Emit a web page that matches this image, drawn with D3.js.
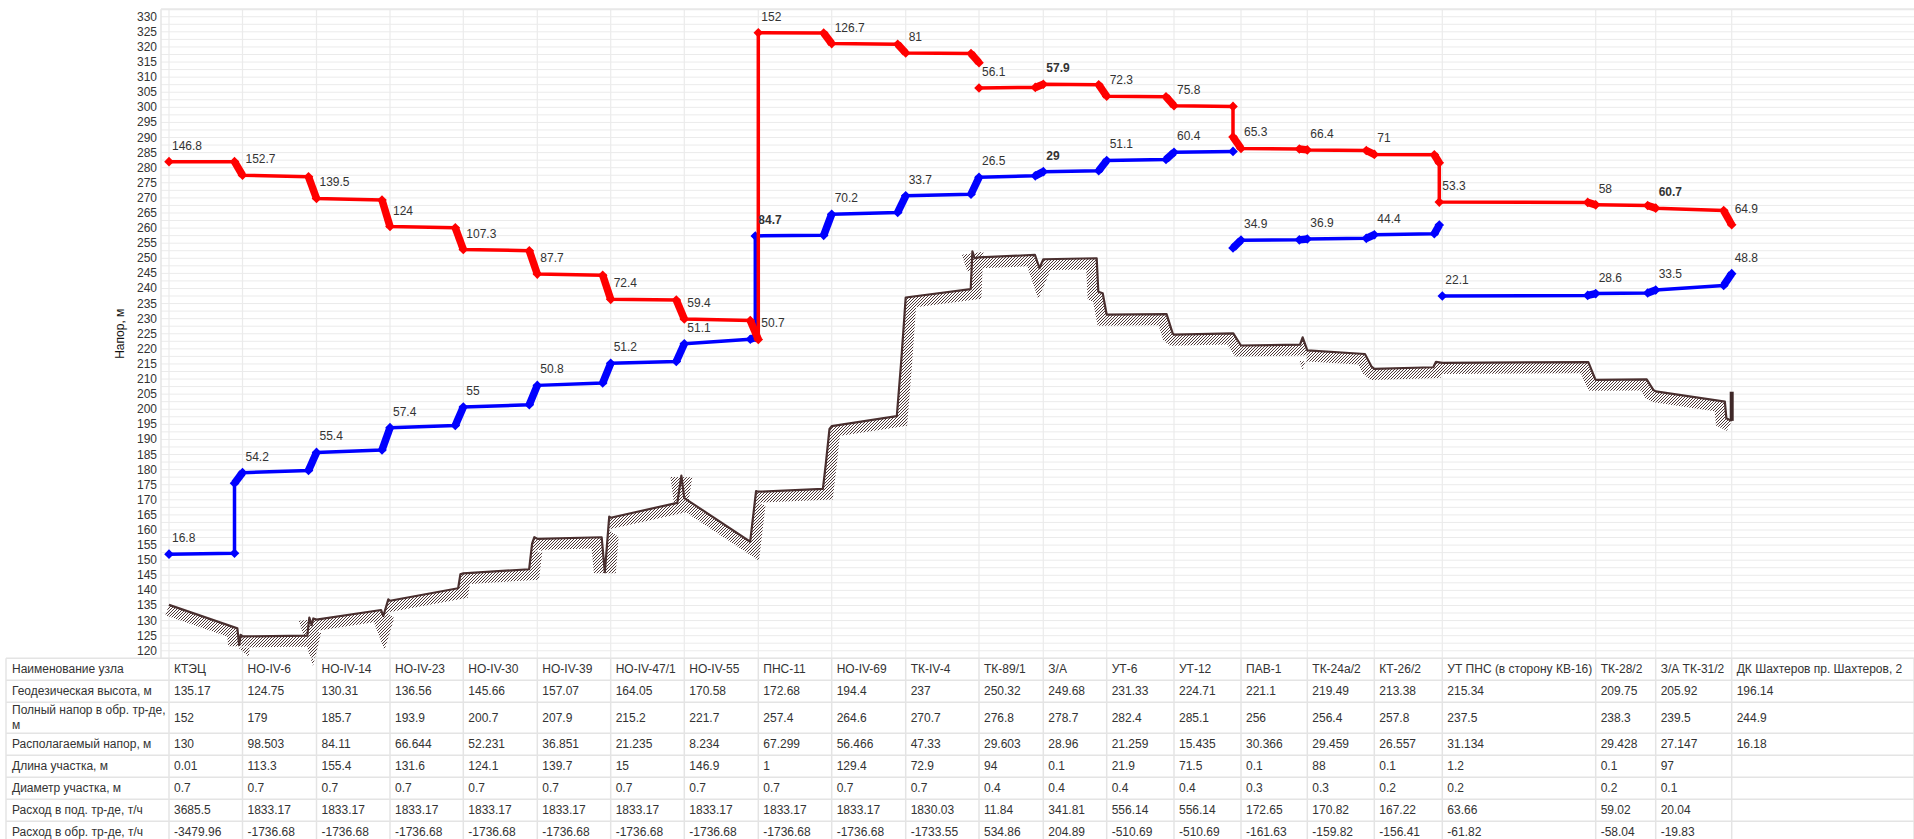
<!DOCTYPE html>
<html>
<head>
<meta charset="utf-8">
<title>Пьезометрический график</title>
<script src="https://d3js.org/d3.v7.min.js"></script>
<style>
    body { margin: 0; background: #fff; }
    svg { font-family: "Liberation Sans", Arial, sans-serif; }
    svg text { font-size: 12px; fill: #333; }
</style>
</head>
<body>
<svg id="chart" width="1914" height="839"></svg>
<script>
// ---- data (table) ----
const nodeNames = ["КТЭЦ", "НО-IV-6", "НО-IV-14", "НО-IV-23", "НО-IV-30", "НО-IV-39", "НО-IV-47/1", "НО-IV-55",
    "ПНС-11", "НО-IV-69", "ТК-IV-4", "ТК-89/1", "З/А", "УТ-6", "УТ-12", "ПАВ-1", "ТК-24а/2", "КТ-26/2",
    "УТ ПНС (в сторону КВ-16)", "ТК-28/2", "З/А ТК-31/2", "ДК Шахтеров пр. Шахтеров, 2"];
const geodeticHeight = [135.17, 124.75, 130.31, 136.56, 145.66, 157.07, 164.05, 170.58, 172.68, 194.4, 237,
    250.32, 249.68, 231.33, 224.71, 221.1, 219.49, 213.38, 215.34, 209.75, 205.92, 196.14];
const returnHead = [152, 179, 185.7, 193.9, 200.7, 207.9, 215.2, 221.7, 257.4, 264.6, 270.7, 276.8, 278.7,
    282.4, 285.1, 256, 256.4, 257.8, 237.5, 238.3, 239.5, 244.9];
const availableHead = [130, 98.503, 84.11, 66.644, 52.231, 36.851, 21.235, 8.234, 67.299, 56.466, 47.33,
    29.603, 28.96, 21.259, 15.435, 30.366, 29.459, 26.557, 31.134, 29.428, 27.147, 16.18];
const sectionLength = [0.01, 113.3, 155.4, 131.6, 124.1, 139.7, 15, 146.9, 1, 129.4, 72.9, 94, 0.1, 21.9,
    71.5, 0.1, 88, 0.1, 1.2, 0.1, 97, null];
const sectionDiameter = [0.7, 0.7, 0.7, 0.7, 0.7, 0.7, 0.7, 0.7, 0.7, 0.7, 0.7, 0.4, 0.4, 0.4, 0.4, 0.3,
    0.3, 0.2, 0.2, 0.2, 0.1, null];
const supplyFlow = [3685.5, 1833.17, 1833.17, 1833.17, 1833.17, 1833.17, 1833.17, 1833.17, 1833.17, 1833.17,
    1830.03, 11.84, 341.81, 556.14, 556.14, 172.65, 170.82, 167.22, 63.66, 59.02, 20.04, null];
const returnFlow = [-3479.96, -1736.68, -1736.68, -1736.68, -1736.68, -1736.68, -1736.68, -1736.68, -1736.68,
    -1736.68, -1733.55, 534.86, 204.89, -510.69, -510.69, -161.63, -159.82, -156.41, -61.82, -58.04, -19.83, null];

const rowLabels = ["Наименование узла", "Геодезическая высота, м", ["Полный напор в обр. тр-де,", "м"],
    "Располагаемый напор, м", "Длина участка, м", "Диаметр участка, м", "Расход в под. тр-де, т/ч",
    "Расход в обр. тр-де, т/ч"];
const rowValues = [nodeNames, geodeticHeight, returnHead, availableHead, sectionLength, sectionDiameter,
    supplyFlow, returnFlow];

// ---- data (chart) ----
const yTicks = d3.range(120, 331, 5);

// [node, where at node, head m, label]
const supplyLine = [
    [[0, "out", 282.0, "146.8"], [1, "in", 282.0], [1, "out", 277.5, "152.7"], [2, "in", 277.0],
     [2, "out", 269.8, "139.5"], [3, "in", 269.3], [3, "out", 260.5, "124"], [4, "in", 260.1],
     [4, "out", 252.9, "107.3"], [5, "in", 252.5], [5, "out", 244.75, "87.7"], [6, "in", 244.4],
     [6, "out", 236.4, "72.4"], [7, "in", 236.2], [7, "out", 229.9, "59.4"], [8, "in", 229.4],
     [8, "out", 223.1, "50.7"], [8, "out", 324.7, "152"], [9, "in", 324.6], [9, "out", 321.1, "126.7"],
     [10, "in", 320.9], [10, "out", 318.0, "81"], [11, "in", 317.8], [11, "out", 314.8]],
    [[11, "out", 306.4, "56.1"], [12, "in", 306.6], [12, "out", 307.66, "57.9"], [13, "in", 307.5],
     [13, "out", 303.66, "72.3"], [14, "in", 303.5], [14, "out", 300.5, "75.8"], [15, "in", 300.3],
     [15, "in", 290.2], [15, "out", 286.4, "65.3"], [16, "in", 286.2], [16, "out", 285.9, "66.4"],
     [17, "in", 285.7], [17, "out", 284.4, "71"], [18, "in", 284.3], [18, "mid", 281.6],
     [18, "mid", 268.6, "53.3"], [19, "in", 268.5], [19, "out", 267.7, "58"], [20, "in", 267.5],
     [20, "out", 266.6, "60.7"], [21, "in", 265.8], [21, "out", 261.1, "64.9"]]
];
const returnLine = [
    [[0, "out", 152, "16.8"], [1, "in", 152.3], [1, "in", 175.5], [1, "out", 179, "54.2"], [2, "in", 179.7],
     [2, "out", 185.7, "55.4"], [3, "in", 186.5], [3, "out", 193.9, "57.4"], [4, "in", 194.6],
     [4, "out", 200.7, "55"], [5, "in", 201.5], [5, "out", 207.9, "50.8"], [6, "in", 208.7],
     [6, "out", 215.2, "51.2"], [7, "in", 215.8], [7, "out", 221.7, "51.1"], [8, "in", 223.2],
     [8, "mid", 223.8], [8, "mid", 257.4, "84.7"], [9, "in", 257.6], [9, "out", 264.6, "70.2"],
     [10, "in", 265.2], [10, "out", 270.7, "33.7"], [11, "in", 271.2], [11, "out", 276.8, "26.5"],
     [12, "in", 277.3], [12, "out", 278.7, "29"], [13, "in", 279.0], [13, "out", 282.4, "51.1"],
     [14, "in", 282.7], [14, "out", 285.1, "60.4"], [15, "in", 285.4]],
    [[15, "in", 253.4], [15, "out", 256.0, "34.9"], [16, "in", 256.1], [16, "out", 256.4, "36.9"],
     [17, "in", 256.6], [17, "out", 257.8, "44.4"], [18, "in", 258.1], [18, "mid", 261.0]],
    [[18, "out", 237.5, "22.1"], [19, "in", 237.7], [19, "out", 238.3, "28.6"], [20, "in", 238.5],
     [20, "out", 239.5, "33.5"], [21, "in", 241.0], [21, "out", 244.9, "48.8"]]
];
// ground profile: [position along route (node index), height m]
const groundProfile = [
    [0, 135.2], [0.93, 127.4], [0.955, 121.9], [0.975, 125.3], [1, 124.75],
    [1.876, 125.0], [1.903, 131.0], [1.935, 128.5], [1.957, 130.7], [2, 130.31],
    [2.878, 133.5], [2.909, 131.5], [2.977, 137.0], [3, 136.56],
    [3.93, 140.7], [3.96, 145.3], [4, 145.66],
    [4.89, 147.0], [4.93, 155.5], [4.96, 157.6], [5, 157.07],
    [5.877, 157.6], [5.92, 146.0], [5.98, 164.4], [6, 164.05],
    [6.905, 169.0], [6.96, 178.0], [7, 170.58],
    [7.89, 156.1], [7.97, 172.9], [8, 172.68],
    [8.88, 173.6], [8.92, 182.0], [8.97, 193.5], [9, 194.4],
    [9.88, 197.7], [9.94, 216.0], [10, 237],
    [10.887, 239.8], [10.91, 252.3], [10.94, 250.0], [11, 250.32],
    [11.87, 251.1], [11.94, 246.7], [12, 249.68],
    [12.842, 250.0], [12.868, 238.9], [12.937, 238.4], [13, 231.33],
    [13.89, 231.5], [13.98, 225.1], [14, 224.71],
    [14.885, 225.1], [14.985, 221.6], [15, 221.1],
    [15.89, 221.4], [15.93, 223.8], [16, 219.49],
    [16.86, 218.3], [16.96, 214.1], [17, 213.38],
    [17.868, 213.9], [17.907, 215.7], [18, 215.34],
    [18.952, 215.6], [18.995, 210.2], [19, 209.75],
    [19.85, 209.9], [19.96, 206.4], [20, 205.92],
    [20.91, 202.5], [20.93, 197.0], [21, 196.14]
];
const groundEndMark = [196.14, 205.8];

// ---- layout ----
const W = 1914;
const tableLeft = 6, firstEdge = 169;
const colWidths = [73.5, 74, 73.5, 73.3, 74, 73.4, 73.6, 74, 73.4, 74, 73.3, 64.3, 63.4, 67.3, 67, 66.3, 67,
    68, 153.4, 60, 76, 182.3];
const edges = [firstEdge];
colWidths.forEach(w => edges.push(edges[edges.length - 1] + w));
const rowHeights = [22, 22, 31, 22, 22, 22, 22, 22];
const tableTop = 658.3;
const plotLeft = 161;
const offsets = {in: -8, mid: -3, out: 0};
const gridColor = "#ebebeb";

const svg = d3.select("#chart");
const x = d3.scaleLinear().domain(d3.range(nodeNames.length)).range(edges.slice(0, nodeNames.length));
const y = d3.scaleLinear().domain([117.5, 332.5]).range([tableTop, 9.2]);

const defs = svg.append("defs");
const hatch = defs.append("pattern").attr("id", "hatch").attr("patternUnits", "userSpaceOnUse")
    .attr("width", 3).attr("height", 3);
hatch.append("path").attr("d", "M-1,1 L1,-1 M0,3 L3,0 M2,4 L4,2")
    .attr("stroke", "#4e3838").attr("stroke-width", 1);

// grid
const grid = svg.append("g");
grid.selectAll(".hg").data(d3.range(117.5, 332.6, 2.5)).join("line")
    .attr("x1", plotLeft).attr("x2", W).attr("y1", d => y(d)).attr("y2", d => y(d))
    .attr("stroke", gridColor).attr("stroke-width", 1);
grid.selectAll(".vg").data(edges.slice(0, nodeNames.length)).join("line")
    .attr("x1", d => d).attr("x2", d => d).attr("y1", y(332.5)).attr("y2", tableTop)
    .attr("stroke", gridColor).attr("stroke-width", 1.2);
grid.append("line").attr("x1", plotLeft).attr("x2", plotLeft).attr("y1", y(332.5)).attr("y2", tableTop)
    .attr("stroke", "#e4e4e4").attr("stroke-width", 1.5);
grid.append("line").attr("x1", plotLeft).attr("x2", W).attr("y1", y(332.5)).attr("y2", y(332.5))
    .attr("stroke", "#e8e8e8").attr("stroke-width", 2);

// y axis
svg.append("g").selectAll("text").data(yTicks).join("text")
    .attr("x", 157).attr("y", d => y(d) + 4).attr("text-anchor", "end").text(d => d);
svg.append("text").attr("transform", `translate(124,${y(225)}) rotate(-90)`)
    .attr("text-anchor", "middle").style("fill", "#111").text("Напор, м");

// ground profile with hatch
const gpts = groundProfile.map(d => [x(d[0]), y(d[1])]);
function rightOffset(pts, w, limit) {
    const segN = [];
    for (let i = 0; i < pts.length - 1; i++) {
        const dx = pts[i + 1][0] - pts[i][0], dy = pts[i + 1][1] - pts[i][1];
        const L = Math.hypot(dx, dy) || 1;
        segN.push([-dy / L, dx / L]);
    }
    const out = [];
    pts.forEach((p, i) => {
        const a = segN[Math.max(0, i - 1)], b = segN[Math.min(segN.length - 1, i)];
        let mx = a[0] + b[0], my = a[1] + b[1];
        const ml = Math.hypot(mx, my);
        const cos = ml > 1e-6 ? (mx / ml) * a[0] + (my / ml) * a[1] : 0;
        if (ml < 1e-6 || w / cos > limit * w) {
            out.push([p[0] + a[0] * w, p[1] + a[1] * w]);
            out.push([p[0] + b[0] * w, p[1] + b[1] * w]);
        } else {
            out.push([p[0] + mx / ml * w / cos, p[1] + my / ml * w / cos]);
        }
    });
    return out;
}
const band = gpts.concat(rightOffset(gpts, 11, 4).reverse());
svg.append("path").attr("d", "M" + band.map(p => p.join(",")).join("L") + "Z")
    .attr("fill", "url(#hatch)").attr("stroke", "none");
svg.append("path").attr("d", d3.line()(gpts)).attr("fill", "none")
    .attr("stroke", "#4a3030").attr("stroke-width", 2.2).attr("stroke-linejoin", "round");
svg.append("line").attr("x1", x(nodeNames.length - 1)).attr("x2", x(nodeNames.length - 1))
    .attr("y1", y(groundEndMark[0])).attr("y2", y(groundEndMark[1]))
    .attr("stroke", "#3f2828").attr("stroke-width", 4);

// head lines
const diamond = r => `M0,${-r}L${r},0L0,${r}L${-r},0Z`;
const labels = [];
function drawSeries(segments, color) {
    const g = svg.append("g");
    segments.forEach(seg => {
        const pts = seg.map(p => ({n: p[0], at: p[1], x: x(p[0]) + offsets[p[1]], y: y(p[2]), label: p[3]}));
        g.append("path").attr("d", d3.line().x(d => d.x).y(d => d.y)(pts))
            .attr("fill", "none").attr("stroke", color).attr("stroke-width", 3.5)
            .attr("stroke-linejoin", "round");
        d3.pairs(pts).filter(([a, b]) => a.n === b.n && a.at !== b.at).forEach(([a, b]) => {
            g.append("line").attr("x1", a.x).attr("y1", a.y).attr("x2", b.x).attr("y2", b.y)
                .attr("stroke", color).attr("stroke-width", 7.5);
        });
        g.selectAll(null).data(pts).join("path").attr("d", diamond(4.8))
            .attr("transform", d => `translate(${d.x},${d.y})`).attr("fill", color);
        pts.filter(d => d.label).forEach(d => labels.push(d));
    });
}
drawSeries(returnLine, "#0000ff");
drawSeries(supplyLine, "#ff0000");

const heavyLabels = ["57.9", "29", "60.7", "84.7"];
svg.append("g").selectAll("text").data(labels).join("text")
    .attr("x", d => d.x + 3).attr("y", d => d.y - 12)
    .style("font-weight", d => heavyLabels.includes(d.label) ? "bold" : null)
    .text(d => d.label);

// table
const table = svg.append("g");
const rowTops = [tableTop];
rowHeights.forEach(h => rowTops.push(rowTops[rowTops.length - 1] + h));
table.selectAll(".rl").data(rowTops).join("line")
    .attr("x1", tableLeft).attr("x2", W).attr("y1", d => d).attr("y2", d => d)
    .attr("stroke", "#e4e4e4").attr("stroke-width", 1.5);
table.selectAll(".cl").data([tableLeft].concat(edges)).join("line")
    .attr("x1", d => d).attr("x2", d => d).attr("y1", tableTop).attr("y2", 839)
    .attr("stroke", "#e4e4e4").attr("stroke-width", 1.5);
rowLabels.forEach((lab, r) => {
    const cy = rowTops[r] + rowHeights[r] / 2;
    const lines = Array.isArray(lab) ? lab : [lab];
    lines.forEach((t, k) => {
        table.append("text").attr("x", tableLeft + 6)
            .attr("y", cy + 4 + (k - (lines.length - 1) / 2) * 15).text(t);
    });
    rowValues[r].forEach((v, i) => {
        if (v === null) return;
        table.append("text").attr("x", edges[i] + 5).attr("y", cy + 4).text(v);
    });
});
</script>
</body>
</html>
